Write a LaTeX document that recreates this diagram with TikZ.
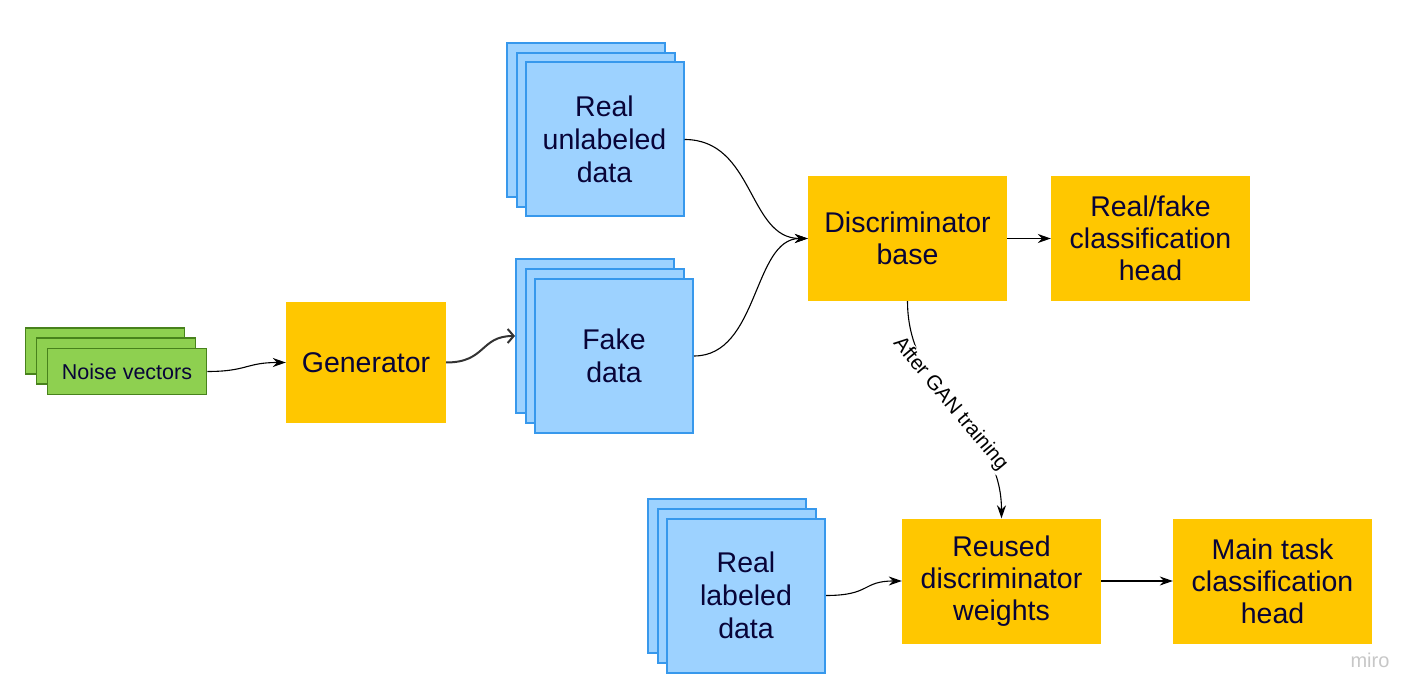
\documentclass[tikz,border=0pt]{standalone}
\usepackage{fontspec}
\setmainfont{Liberation Sans}
\usetikzlibrary{arrows.meta}
\definecolor{ylw}{RGB}{255,199,0}
\definecolor{bfill}{RGB}{157,210,255}
\definecolor{bdraw}{RGB}{55,152,236}
\definecolor{gfill}{RGB}{142,208,80}
\definecolor{gdraw}{RGB}{72,130,28}
\definecolor{navy}{RGB}{8,4,56}
\tikzset{
  ybox/.style={fill=ylw, draw=none, minimum width=199pt, minimum height=125pt, inner sep=0pt,
    text=navy, align=center, font=\fontsize{28.5}{32}\selectfont},
  bbox/.style={fill=bfill, draw=bdraw, line width=2pt, minimum width=158pt, minimum height=154pt, inner sep=0pt,
    text=navy, align=center, font=\fontsize{28.5}{33}\selectfont},
  gbox/.style={fill=gfill, draw=gdraw, line width=1.6pt, minimum width=159pt, minimum height=46pt, inner sep=0pt,
    text=navy, align=center, font=\fontsize{21.5}{24}\selectfont},
  conn/.style={draw=black, line width=1.1pt, -{Stealth[length=13pt,width=9pt]}},
  lbl/.style={font=\fontsize{20.5}{24}\selectfont, text=black, fill=white, inner sep=1pt}
}
\begin{document}
\begin{tikzpicture}[x=1pt,y=-1pt]
\useasboundingbox (0,0) rectangle (1427,700);
% noise vectors
\node[gbox] (nv3) at (105,351) {};
\node[gbox] (nv2) at (116,361) {};
\node[gbox] (nv) at (127,371.5) {Noise vectors};
% generator
\node[ybox, minimum width=160pt, minimum height=121pt] (gen) at (366,362.5) {Generator};
% fake data
\node[bbox] (fd3) at (595,336) {};
\node[bbox] (fd2) at (605,346) {};
\node[bbox] (fd) at (614,356) {Fake\\data};
% real unlabeled
\node[bbox] (ru3) at (585.5,120) {};
\node[bbox] (ru2) at (595.5,130) {};
\node[bbox] (ru) at (604.5,139.5) {Real\\unlabeled\\data};
% real labeled
\node[bbox] (rl3) at (727,576) {};
\node[bbox] (rl2) at (737,586) {};
\node[bbox] (rl) at (746,595.5) {Real\\labeled\\data};
% yellow boxes
\node[ybox] (disc) at (907.5,238.5) {Discriminator\\base};
\node[ybox] (rf) at (1150.5,238.5) {Real/fake\\classification\\head};
\node[ybox] (reu) at (1001.5,581) {Reused\\discriminator\\weights};
\node[ybox] (mt) at (1272.5,581) {Main task\\classification\\head};
% connectors
\draw[conn] (nv.east) .. controls +(40,0) and +(-40,0) .. (gen.west);
\draw[draw=black!80, line width=2pt, -{Straight Barb[length=6pt,width=14pt,line width=2pt]}]
  (gen.east) .. controls +(40,0) and +(-35,0) .. (fd3.west);
\draw[conn] (ru.east) .. controls +(70,0) and +(-60,0) .. (disc.west);
\draw[conn] (fd.east) .. controls +(65,0) and +(-55,0) .. (disc.west);
\draw[conn] (disc.east) -- (rf.west);
\draw[conn] (reu.east) -- (mt.west);
\draw[conn] (rl.east) .. controls +(45,0) and +(-40,0) .. (reu.west);
\draw[conn] (disc.south) .. controls +(0,95) and +(0,-95) .. (reu.north)
  node[lbl, pos=0.47, rotate=-50] (lab) {After GAN training};
% watermark
\node[font=\fontsize{20}{24}\selectfont, text=black!22] (miro) at (1370,660) {miro};
\end{tikzpicture}
\end{document}
